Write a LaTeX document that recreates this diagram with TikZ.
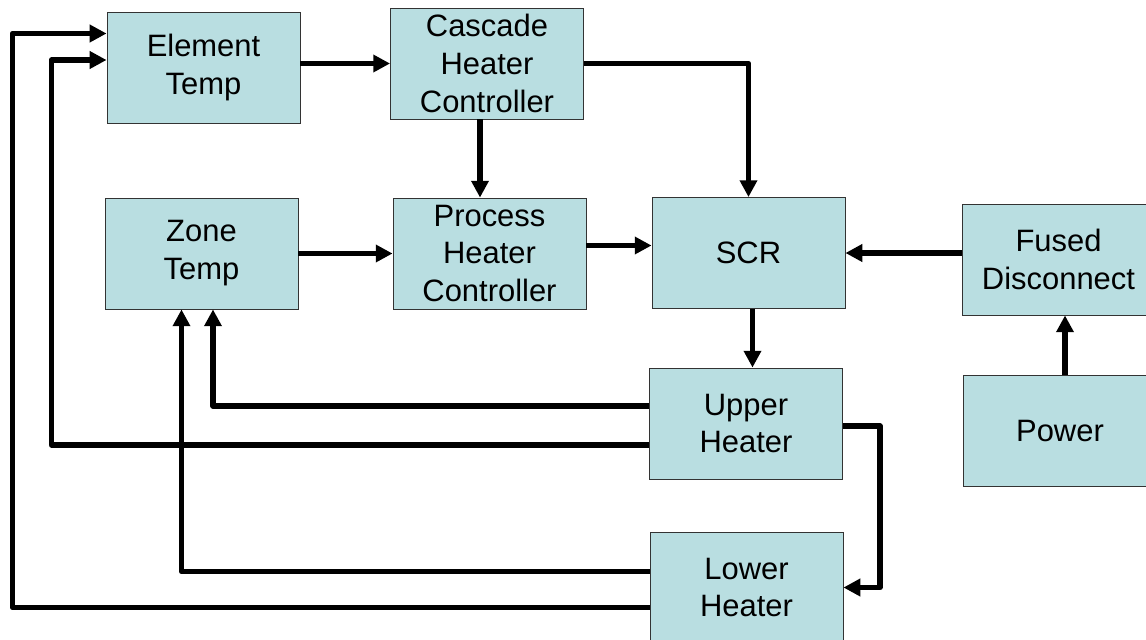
\documentclass[tikz,border=0pt]{standalone}
\usepackage{fontspec}
\setmainfont{Liberation Sans}
\usepackage{tikz}
\usetikzlibrary{arrows.meta, calc}
\definecolor{boxblue}{RGB}{185, 222, 225}

\begin{document}
\begin{tikzpicture}[
          x=0.025cm, y=-0.025cm,
          block/.style={rectangle, fill=boxblue, draw=black!80, line width=0.6pt, minimum width=4.825cm, minimum height=2.775cm, inner sep=0pt, align=center, font=\fontsize{22}{27}\selectfont},
          conn/.style={line width=0.14cm, line join=round, -{Triangle[length=0.42cm, width=0.42cm]}},
          wire/.style={line width=0.14cm, line join=round}
        ]
          \useasboundingbox (0,0) rectangle (1146,639);

          % Blocks
          \node[block] (elem) at (203.5, 67.5) {Element\\Temp};
          \node[block] (casc) at (487, 63.5) {Cascade\\Heater\\Controller};
          \node[block] (zone) at (201.5, 253.5) {Zone\\Temp};
          \node[block] (proc) at (489.5, 253.5) {Process\\Heater\\Controller};
          \node[block] (scr) at (748.5, 253) {SCR};
          \node[block] (fused) at (1058.5, 259.5) {Fused\\Disconnect};
          \node[block] (power) at (1060, 431) {Power};
          \node[block] (upper) at (746, 423.5) {Upper\\Heater};
          \node[block] (lower) at (746.5, 587.5) {Lower\\Heater};

          % Forward path
          \draw[conn] (elem.east |- casc.west) -- (casc.west);
          \draw[conn] ($(casc.south)+(-7,0)$) coordinate (cs) -- (cs |- proc.north);
          \draw[conn] (casc.east) -| (scr.north);
          \draw[conn] (zone.east) -- (proc.west);
          \draw[conn] ($(proc.east)+(0,-8)$) coordinate (pe) -- (pe -| scr.west);
          \draw[conn] (fused.west |- scr.east) -- (scr.east);
          \draw[conn] ($(power.north)+(5,0)$) coordinate (pn) -- (pn |- fused.south);
          \draw[conn] ($(scr.south)+(4,0)$) coordinate (ss) -- (ss |- upper.north);
          \draw[conn] ($(upper.east)+(0,2.5)$) -- ++(37,0) |- (lower.east);

          % Feedback
          \draw[conn] ($(upper.west)+(0,-17.5)$) -| ($(zone.south)+(11.5,0)$);
          \draw[conn] ($(lower.west)+(0,-16)$) -| ($(zone.south)+(-20,0)$);
          \draw[conn] ($(upper.west)+(0,21.5)$) -| ($(elem.west)+(-55,-7.5)$) -- ($(elem.west)+(0,-7.5)$);
          \draw[conn] ($(lower.west)+(0,20)$) -| ($(elem.west)+(-94,-34)$) -- ($(elem.west)+(0,-34)$);
        \end{tikzpicture}
\end{document}
